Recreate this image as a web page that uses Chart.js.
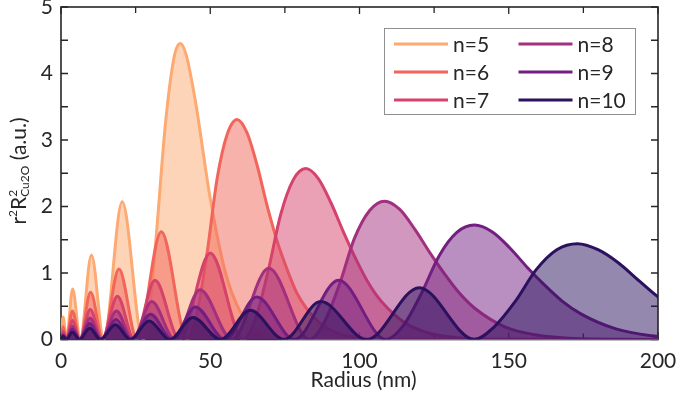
<!DOCTYPE html>
<html>
<head>
<meta charset="utf-8">
<script src="https://cdn.jsdelivr.net/npm/chart.js@4.4.1/dist/chart.umd.min.js"></script>
<style>
  html, body { margin: 0; padding: 0; background: #fff; }
  #wrap { width: 676px; height: 401px; }
</style>
</head>
<body>
<div id="wrap"><canvas id="c" width="676" height="401"></canvas></div>
<script>
// radial probability r^2 R^2, one pair of arrays per n
const r5 = [0, 0.7, 1.86, 3.9, 6.43, 10.2, 14.33, 20.5, 27.4, 28, 30, 32, 35, 38, 40, 42, 45, 50, 55, 60, 65, 70, 80, 90, 200];
const y5 = [0, 0.34, 0, 0.76, 0, 1.27, 0, 2.07, 0, 0.035, 0.59, 1.61, 3.25, 4.27, 4.45, 4.27, 3.59, 2.12, 1.02, 0.42, 0.155, 0.052, 0.005, 0, 0];

const r6 = [0, 0.7, 1.85, 3.8, 6.35, 9.9, 14.0, 19.4, 25.5, 33.6, 42.3, 45.6, 49.0, 52.3, 55.7, 59, 62.3, 65.7, 69.0, 72.4, 75.7, 79.0, 85.7, 92.4, 99, 112, 200];
const y6 = [0, 0.19, 0, 0.43, 0, 0.71, 0, 1.06, 0, 1.62, 0, 0.41, 1.32, 2.42, 3.09, 3.31, 3.11, 2.62, 2.02, 1.48, 1.06, 0.7, 0.29, 0.1, 0.034, 0.003, 0];

const r7 = [0, 0.7, 1.85, 3.8, 6.3, 9.8, 13.7, 18.9, 24.5, 31.5, 39.7, 50, 61.0, 65.2, 69.4, 73.6, 77.8, 82, 86.2, 90.4, 94.6, 98.8, 103, 107.2, 115.6, 124, 132.4, 149, 200];
const y7 = [0, 0.12, 0, 0.29, 0, 0.45, 0, 0.65, 0, 0.89, 0, 1.30, 0, 0.32, 1.03, 1.88, 2.40, 2.57, 2.42, 2.06, 1.62, 1.21, 0.85, 0.58, 0.24, 0.087, 0.028, 0.003, 0];

const r8 = [0, 0.7, 1.84, 3.8, 6.26, 9.7, 13.5, 18.6, 23.9, 30.4, 38.1, 46.6, 57.3, 69.6, 83.2, 88.2, 93.3, 98.3, 103.4, 108.4, 113.4, 118.5, 123.5, 128.6, 133.6, 138.6, 148.7, 158.8, 168.9, 189, 200];
const y8 = [0, 0.08, 0, 0.20, 0, 0.32, 0, 0.43, 0, 0.57, 0, 0.75, 0, 1.07, 0, 0.26, 0.83, 1.52, 1.94, 2.08, 1.96, 1.66, 1.31, 0.98, 0.69, 0.47, 0.19, 0.071, 0.023, 0.002, 0];

const r9 = [0, 0.7, 1.84, 3.8, 6.23, 9.6, 13.4, 18.4, 23.5, 30, 37.2, 45, 54.9, 65.6, 78.2, 93, 108.9, 114.8, 120.7, 126.7, 132.6, 138.5, 144.4, 150.3, 156.3, 162.2, 168.1, 174, 185.9, 197.7, 209.5];
const y9 = [0, 0.06, 0, 0.15, 0, 0.24, 0, 0.30, 0, 0.38, 0, 0.49, 0, 0.64, 0, 0.89, 0, 0.215, 0.69, 1.26, 1.61, 1.72, 1.62, 1.38, 1.08, 0.81, 0.57, 0.39, 0.16, 0.058, 0.019];

const r10 = [0, 0.7, 1.84, 3.8, 6.22, 9.6, 13.2, 18.2, 23.2, 29.5, 36.4, 44.2, 53.5, 63.4, 74.7, 87, 102.4, 120, 138.5, 144.9, 152.3, 159.2, 166.1, 173, 179.9, 186.8, 193.7, 200.6, 207.5];
const y10 = [0, 0.05, 0, 0.11, 0, 0.17, 0, 0.22, 0, 0.28, 0, 0.33, 0, 0.44, 0, 0.57, 0, 0.78, 0, 0.18, 0.58, 1.05, 1.35, 1.44, 1.35, 1.15, 0.88, 0.62, 0.43];

const labels = ['n=5', 'n=6', 'n=7', 'n=8', 'n=9', 'n=10'];
const colors = ['#fdaa72', '#f1655a', '#d5426c', '#a3307e', '#721f81', '#2c115f'];
const xTicks = [0, 25, 50, 75, 100, 125, 150, 175, 200];
const yTicks = [0, 0.5, 1, 1.5, 2, 2.5, 3, 3.5, 4, 4.5, 5];

const series = [[r5, y5], [r6, y6], [r7, y7], [r8, y8], [r9, y9], [r10, y10]];

function withAlpha(hex, a) {
  const n = parseInt(hex.slice(1), 16);
  return `rgba(${n >> 16},${(n >> 8) & 255},${n & 255},${a})`;
}

const INK = '#262626';
const FONT = 'Lato';

// frame and inward ticks, drawn under the curves
const framePlugin = {
  id: 'frame',
  beforeDatasetsDraw(chart) {
    const { ctx, chartArea: a, scales: { x, y } } = chart;
    ctx.save();
    ctx.strokeStyle = INK;
    ctx.lineWidth = 1.6;
    ctx.strokeRect(a.left, a.top, a.right - a.left, a.bottom - a.top);
    ctx.lineWidth = 1.3;
    ctx.beginPath();
    xTicks.forEach(v => {
      const px = x.getPixelForValue(v);
      const len = v % 50 === 0 ? 7 : 6;
      ctx.moveTo(px, a.bottom); ctx.lineTo(px, a.bottom - len);
      ctx.moveTo(px, a.top); ctx.lineTo(px, a.top + len);
    });
    yTicks.forEach(v => {
      const py = y.getPixelForValue(v);
      const len = 7;
      ctx.moveTo(a.left, py); ctx.lineTo(a.left + len, py);
      ctx.moveTo(a.right, py); ctx.lineTo(a.right - len, py);
    });
    ctx.stroke();
    ctx.restore();
  }
};

// axis titles and the two-column legend
const decorPlugin = {
  id: 'decor',
  afterDraw(chart) {
    const { ctx, chartArea: a } = chart;
    ctx.save();
    ctx.fillStyle = INK;
    ctx.textBaseline = 'alphabetic';

    // x title
    ctx.font = `21px ${FONT}`;
    ctx.textAlign = 'center';
    ctx.fillText('Radius (nm)', (a.left + a.right) / 2 + 4, 387);

    // y title: r^2 R^2_Cu2O (a.u.)
    ctx.save();
    ctx.translate(25.5, 171);
    ctx.rotate(-Math.PI / 2);
    ctx.textAlign = 'left';
    const big = `21px ${FONT}`, small = `12px ${FONT}`;
    const parts = [
      { t: 'r', f: big, dy: 0 },
      { t: '2', f: small, dy: -9 },
      { t: 'R', f: big, dy: 0 },
      { t: '2', f: small, dy: -9, stack: 'Cu2O' },
      { t: ' (a.u.)', f: big, dy: 0 }
    ];
    let total = 0;
    const widths = parts.map(p => {
      ctx.font = p.f;
      let w = ctx.measureText(p.t).width;
      if (p.stack) w = Math.max(w, ctx.measureText(p.stack).width);
      total += w;
      return w;
    });
    let cx = -total / 2;
    parts.forEach((p, i) => {
      ctx.font = p.f;
      ctx.fillText(p.t, cx, p.dy);
      if (p.stack) ctx.fillText(p.stack, cx, 3.5);
      cx += widths[i];
    });
    ctx.restore();

    // legend
    const bx = 384.5, by = 28.5, bw = 251, bh = 86;
    ctx.fillStyle = '#fff';
    ctx.fillRect(bx, by, bw, bh);
    ctx.strokeStyle = '#8f8f8f';
    ctx.lineWidth = 1;
    ctx.strokeRect(bx, by, bw, bh);
    ctx.font = `21px ${FONT}`;
    ctx.textAlign = 'left';
    ctx.textBaseline = 'middle';
    labels.forEach((lab, i) => {
      const col = Math.floor(i / 3), row = i % 3;
      const lx = 394 + col * 124.5;
      const ly = 44 + row * 28;
      ctx.strokeStyle = colors[i];
      ctx.lineWidth = 3;
      ctx.beginPath();
      ctx.moveTo(lx, ly);
      ctx.lineTo(lx + 54, ly);
      ctx.stroke();
      ctx.fillStyle = INK;
      ctx.fillText(lab, lx + 59, ly + 1);
    });
    ctx.restore();
  }
};

function build() {
  const datasets = series.map(([r, v], i) => ({
    label: labels[i],
    data: r.map((x, k) => ({ x, y: v[k] })),
    borderColor: colors[i],
    backgroundColor: withAlpha(colors[i], 0.5),
    borderWidth: 3,
    fill: 'origin',
    pointRadius: 0,
    cubicInterpolationMode: 'monotone',
    order: labels.length - i
  }));

  new Chart(document.getElementById('c'), {
    type: 'line',
    data: { datasets },
    options: {
      responsive: false,
      animation: false,
      devicePixelRatio: 1,
      layout: { padding: { top: 7, right: 18, left: 0, bottom: 0 } },
      plugins: { legend: { display: false }, tooltip: { enabled: false } },
      scales: {
        x: {
          type: 'linear', min: 0, max: 200,
          grid: { display: false, drawTicks: false },
          border: { display: false },
          ticks: { stepSize: 50, padding: 9, color: INK, font: { family: FONT, size: 21 }, maxRotation: 0 },
          afterFit: s => { s.height = 61.5; s.paddingLeft = 0; s.paddingRight = 0; }
        },
        y: {
          min: 0, max: 5,
          grid: { display: false, drawTicks: false },
          border: { display: false },
          ticks: { stepSize: 1, padding: 8, color: INK, font: { family: FONT, size: 21 } },
          afterFit: s => { s.width = 61; s.paddingTop = 0; s.paddingBottom = 0; }
        }
      }
    },
    plugins: [framePlugin, decorPlugin]
  });
}

if (document.fonts && document.fonts.load) {
  document.fonts.load(`21px ${FONT}`).then(build, build);
} else {
  build();
}
</script>
</body>
</html>
